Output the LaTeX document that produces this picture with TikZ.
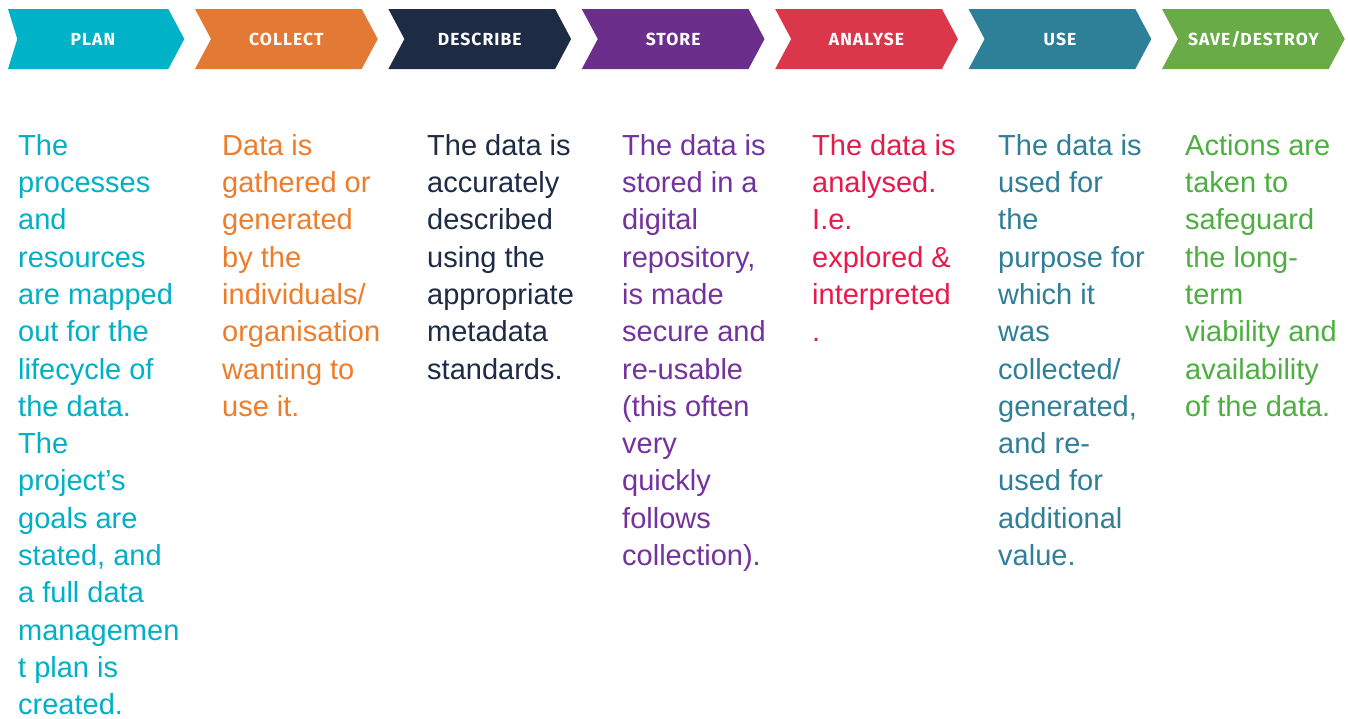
\documentclass[tikz,border=0pt]{standalone}
\usepackage{fontspec}
\setmainfont{Liberation Sans}
\newfontfamily\labelfont[LetterSpace=6]{Fira Sans}
\definecolor{cPlan}{HTML}{00B2C8}
\definecolor{cCollect}{HTML}{E27A36}
\definecolor{cDescribe}{HTML}{1D2B45}
\definecolor{cStore}{HTML}{6B2F8B}
\definecolor{cAnalyse}{HTML}{DA374B}
\definecolor{cUse}{HTML}{2E7F98}
\definecolor{cSave}{HTML}{69AB46}
\definecolor{tPlan}{HTML}{00B0C6}
\definecolor{tCollect}{HTML}{EE7D2B}
\definecolor{tDescribe}{HTML}{1D2B45}
\definecolor{tStore}{HTML}{7432A0}
\definecolor{tAnalyse}{HTML}{E8194B}
\definecolor{tUse}{HTML}{2F7F99}
\definecolor{tSave}{HTML}{4CAF3F}
\newcommand{\firststrut}{\rule{0pt}{25pt}}
\tikzset{
  chevlabel/.style={text=white, font=\labelfont\bfseries\fontsize{17.5}{20}\selectfont, inner sep=0pt},
  bodytext/.style={anchor=north west, inner sep=0pt, align=left, font=\fontsize{29}{37.3}\selectfont}
}
\begin{document}
\begin{tikzpicture}[x=1pt,y=-1pt]
\useasboundingbox[fill=white] (0,0) rectangle (1348,718);
% PLAN chevron (cut at left)
\fill[cPlan] (8,9) -- (168.3,9) -- (184.3,39) -- (168.3,69) -- (8,69) -- (17.3,39) -- cycle;
\node[chevlabel] (lplan) at (92.9,39) {PLAN};
% other chevrons
\foreach \i/\c/\t/\n in {1/cCollect/COLLECT/lcollect,2/cDescribe/DESCRIBE/ldescribe,3/cStore/STORE/lstore,4/cAnalyse/ANALYSE/lanalyse,5/cUse/USE/luse,6/cSave/SAVE\slash DESTROY/lsave}{
  \pgfmathsetmacro{\L}{1.6+193.4*\i}
  \fill[\c] (\L,9) -- (\L+166.7,9) -- (\L+182.7,39) -- (\L+166.7,69) -- (\L,69) -- (\L+16,39) -- cycle;
  \node[chevlabel] (\n) at (\L+91.35,39) {\t};
}
% body texts (first baseline at y=155)
\node[bodytext, text=tPlan] (tplan) at (18,130) {\firststrut The\\processes\\and\\resources\\are mapped\\out for the\\lifecycle of\\the data.\\The\\project’s\\goals are\\stated, and\\a full data\\managemen\\t plan is\\created.};
\node[bodytext, text=tCollect] (tcollect) at (222,130) {\firststrut Data is\\gathered or\\generated\\by the\\individuals/\\organisation\\wanting to\\use it.};
\node[bodytext, text=tDescribe] (tdescribe) at (427,130) {\firststrut The data is\\accurately\\described\\using the\\appropriate\\metadata\\standards.};
\node[bodytext, text=tStore] (tstore) at (622,130) {\firststrut The data is\\stored in a\\digital\\repository,\\is made\\secure and\\re-usable\\(this often\\very\\quickly\\follows\\collection).};
\node[bodytext, text=tAnalyse] (tanalyse) at (812,130) {\firststrut The data is\\analysed.\\I.e.\\explored \&\\interpreted\\.};
\node[bodytext, text=tUse] (tuse) at (998,130) {\firststrut The data is\\used for\\the\\purpose for\\which it\\was\\collected/\\generated,\\and re-\\used for\\additional\\value.};
\node[bodytext, text=tSave] (tsave) at (1185,130) {\firststrut Actions are\\taken to\\safeguard\\the long-\\term\\viability and\\availability\\of the data.};
\end{tikzpicture}
\end{document}
